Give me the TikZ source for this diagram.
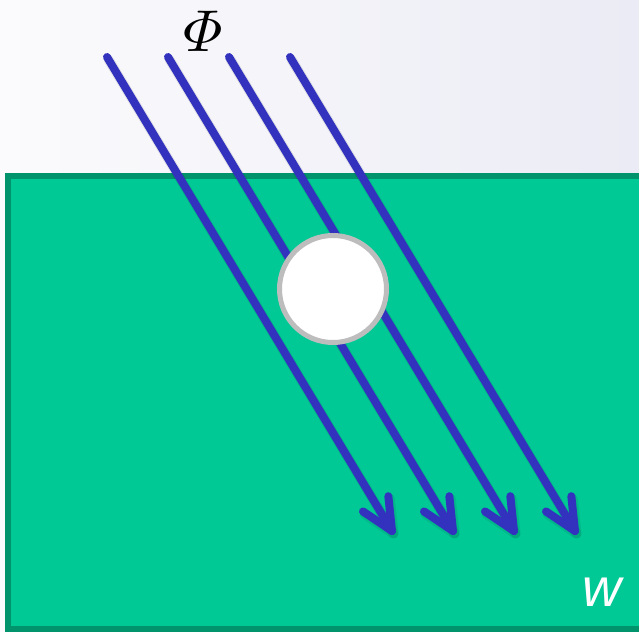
\documentclass[tikz,border=0pt]{standalone}
\usepackage{amsmath}
\usepackage[no-math]{fontspec}
\newfontfamily\wfont{Liberation Sans}
\usetikzlibrary{calc}
\definecolor{bgL}{HTML}{FBFBFD}
\definecolor{bgR}{HTML}{EBEBF5}
\definecolor{slab}{HTML}{00C996}
\definecolor{slabedge}{HTML}{00936C}
\definecolor{ray}{HTML}{3232BE}
\definecolor{ringgray}{HTML}{BDBDBD}
\tikzset{
  raystyle/.style={draw=ray, line width=8pt, line cap=round, line join=round},
  rayshadow/.style={draw=black, opacity=0.08, line width=10pt, line cap=round, line join=round},
}
\newcommand{\drawray}[2]{%
  \draw[rayshadow] ($(#1)+(1.5,2.5)$) -- ($(#2)+(1.5,2.5)$);
  \draw[rayshadow] ($($(#2)!35pt!25:(#1)$)+(1.5,2.5)$) -- ($(#2)+(1.5,2.5)$) -- ($($(#2)!35pt!-25:(#1)$)+(1.5,2.5)$);
  \draw[raystyle] (#1) -- (#2);
  \draw[raystyle] ($(#2)!35pt!25:(#1)$) -- (#2) -- ($(#2)!35pt!-25:(#1)$);
}
\begin{document}
\begin{tikzpicture}[x=1pt,y=-1pt]
\useasboundingbox (0,0) rectangle (639,631);
\shade[left color=bgL, right color=bgR] (0,0) rectangle (639,631);
\draw[fill=slab, draw=slabedge, line width=6pt] (8,176) rectangle (660,629);
\coordinate (s1) at (107,57);
\coordinate (s2) at (168,57);
\coordinate (s3) at (229,57);
\coordinate (s4) at (290,57);
\coordinate (e1) at (392,531);
\coordinate (e2) at (453,531);
\coordinate (e3) at (514,531);
\coordinate (e4) at (575,531);
\drawray{s1}{e1}
\drawray{s2}{e2}
\drawray{s3}{e3}
\drawray{s4}{e4}
\node[circle, fill=white, draw=ringgray, line width=5pt, minimum size=107pt, inner sep=0pt] (hole) at (333,289) {};
\node[scale=5.9, inner sep=0pt] (phi) at (203,31) {$\varPhi$};
\node[text=white] (w) at (602,592) {\wfont\itshape\fontsize{54}{58}\selectfont w};
\end{tikzpicture}
\end{document}
